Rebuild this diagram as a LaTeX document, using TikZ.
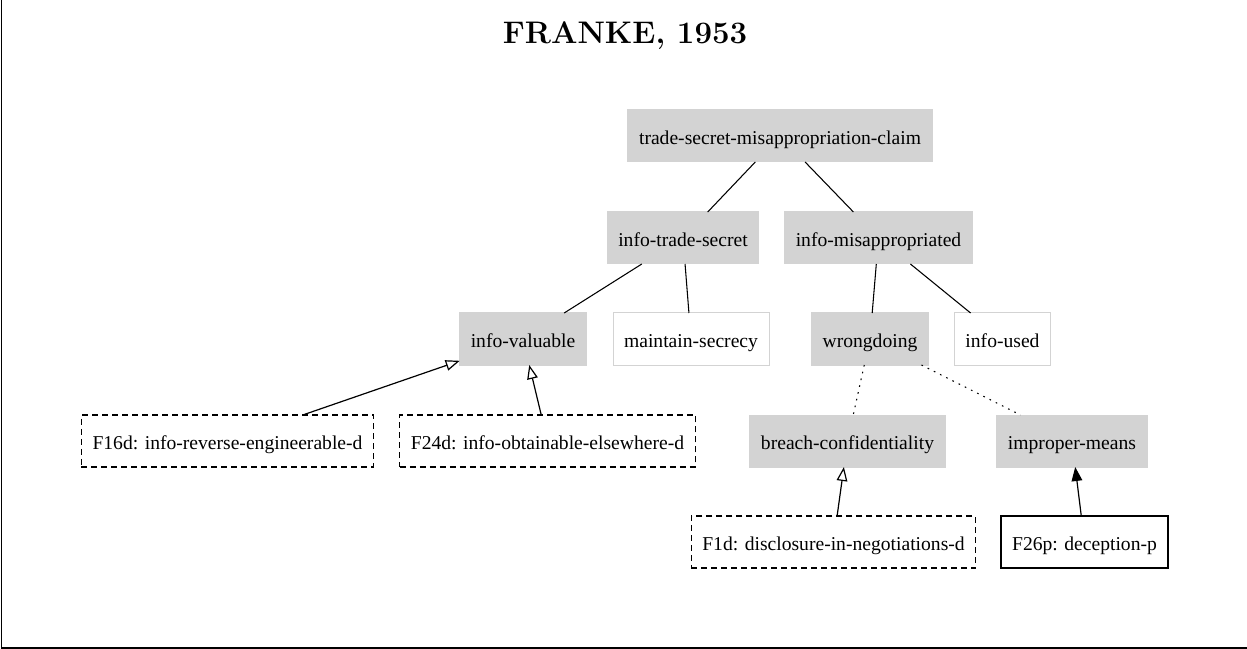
\documentclass[tikz,border=0pt]{standalone}
\usepackage{fontspec}
\setmainfont{Liberation Serif}
\newfontfamily\titlefont{Latin Modern Roman}
\usetikzlibrary{arrows.meta}

\begin{document}
\begin{tikzpicture}[x=0.75pt,y=0.75pt,yscale=-1,xscale=1,
  issue/.style={fill={rgb,255:red,211;green,211;blue,211},draw={rgb,255:red,211;green,211;blue,211},
    line width=0.75pt,inner xsep=8.3pt,minimum height=39pt,text height=13pt,text depth=0pt,
    outer sep=0pt,font=\fontsize{14.7}{17}\selectfont},
  openissue/.style={issue,fill=white},
  factor/.style={issue,fill=none,draw=black,line width=0.9pt},
  dfactor/.style={factor,dash pattern=on 4.5pt off 3pt},
  tree/.style={line width=0.8pt},
  alt/.style={line width=0.8pt,dash pattern=on 1.2pt off 4pt},
  weak/.style={line width=0.9pt,-{Triangle[open,length=10.5pt,width=8pt]}},
  strong/.style={line width=0.9pt,-{Triangle[length=10.5pt,width=8pt]}}]
%set diagram frame
\useasboundingbox (0,0) rectangle (1247,649);
\draw [line width=1pt] (1.5,0) -- (1.5,648) -- (1247,648) ;

% Text Node
\node (title) at (625,36) {\titlefont\fontsize{23.4}{28}\selectfont\bfseries FRANKE, 1953};

% Issues
\node [issue] (claim) at (780,136) {trade-secret-misappropriation-claim};
\node [issue] (secret) at (683,238) {info-trade-secret};
\node [issue] (misapp) at (878.5,238) {info-misappropriated};
\node [issue] (valuable) at (523,339) {info-valuable};
\node [openissue] (secrecy) at (691,339) {maintain-secrecy};
\node [issue] (wrong) at (870,339) {wrongdoing};
\node [openissue] (used) at (1002.5,339) {info-used};
\node [issue] (breach) at (847.5,441) {breach-confidentiality};
\node [issue] (improper) at (1072,441) {improper-means};

% Factors
\node [dfactor] (fsixteen) at (227.5,441) {F16d: info-reverse-engineerable-d};
\node [dfactor] (ftwentyfour) at (547.5,441) {F24d: info-obtainable-elsewhere-d};
\node [dfactor] (fone) at (833.5,542) {F1d: disclosure-in-negotiations-d};
\node [factor] (ftwentysix) at (1084.5,542) {F26p: deception-p};

% Straight Lines
\draw [tree] (claim) -- (secret) ;
\draw [tree] (claim) -- (misapp) ;
\draw [tree] (secret) -- (valuable) ;
\draw [tree] (secret) -- (secrecy) ;
\draw [tree] (misapp) -- (wrong) ;
\draw [tree] (misapp) -- (used) ;
\draw [alt] (wrong) -- (breach) ;
\draw [alt] (wrong) -- (improper) ;

% Arrows
\draw [weak] (fsixteen) -- (valuable) ;
\draw [weak] (ftwentyfour) -- (valuable) ;
\draw [weak] (fone) -- (breach) ;
\draw [strong] (ftwentysix) -- (improper) ;

\end{tikzpicture}
\end{document}
